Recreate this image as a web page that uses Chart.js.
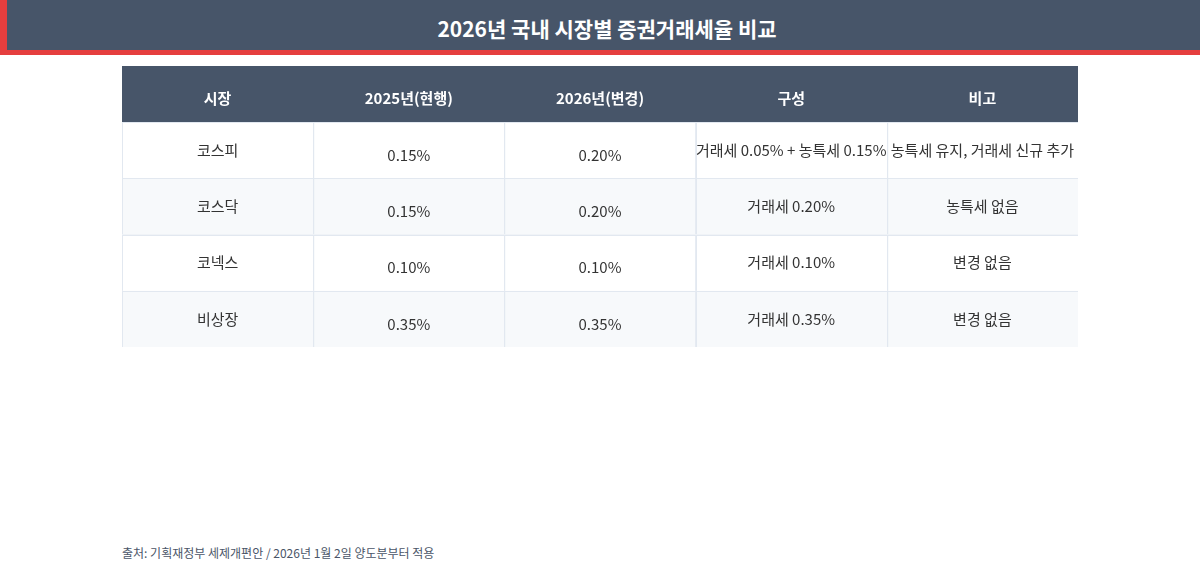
<!DOCTYPE html>
<html><head><meta charset="utf-8">
<script src="https://cdn.jsdelivr.net/npm/chart.js@4"></script>
<style>
body{margin:0;width:1200px;height:570px;background:#fff;font-family:"Noto Sans CJK KR","Noto Sans",sans-serif;position:relative;overflow:hidden}
#title{position:absolute;left:0;top:0;width:1200px;height:50px;background:#475569;border-left:7px solid #e53e3e;border-bottom:5px solid #e53e3e;box-sizing:content-box;color:#fff;font-weight:bold;font-size:21px;text-align:center;line-height:56px}
#wrap{position:absolute;left:122px;top:66px;width:956px;height:281px}
#src{position:absolute;left:122px;top:544px;font-size:12px;color:#4a5568}
</style></head><body>
<div id="title">2026년 국내 시장별 증권거래세율 비교</div>
<div id="wrap"><canvas id="c"></canvas></div>
<div id="src">출처: 기획재정부 세제개편안 / 2026년 1월 2일 양도분부터 적용</div>
<script>
const columns=["시장","2025년(현행)","2026년(변경)","구성","비고"];
const markets=["코스피","코스닥","코넥스","비상장"];
const rate2025=["0.15%","0.15%","0.10%","0.35%"];
const rate2026=["0.20%","0.20%","0.10%","0.35%"];
const composition=["거래세 0.05% + 농특세 0.15%","거래세 0.20%","거래세 0.10%","거래세 0.35%"];
const notes=["농특세 유지, 거래세 신규 추가","농특세 없음","변경 없음","변경 없음"];
const rowLabels=["header",...markets];
const FONT='"Noto Sans CJK KR","Noto Sans",sans-serif';
const tablePlugin={id:'table',afterDraw(ch){
 const c=ch.ctx,xs=ch.scales.x,ys=ch.scales.y;
 const cw=xs.width/columns.length,rh=ys.height/rowLabels.length;
 const rows=markets.map((m,i)=>[m,rate2025[i],rate2026[i],composition[i],notes[i]]);
 c.save();
 rowLabels.forEach((r,ri)=>{
  const cy=ys.getPixelForValue(ri);const top=cy-rh/2;
  c.fillStyle=ri===0?'#475569':(ri%2===0?'#f7f9fb':'#ffffff');
  c.fillRect(xs.left,top,xs.width,rh);
  if(ri>0){c.strokeStyle='#e2e8f0';c.lineWidth=1;
   for(let k=0;k<columns.length;k++){const cx=xs.getPixelForValue(k);c.strokeRect(Math.round(cx-cw/2)+0.5,Math.round(top)+0.5,cw,rh);}}
 });
 c.textAlign='center';c.textBaseline='middle';
 columns.forEach((h,k)=>{c.fillStyle='#fff';c.font='bold 15px '+FONT;c.fillText(h,xs.getPixelForValue(k),ys.getPixelForValue(0)+4);});
 rows.forEach((row,ri)=>{row.forEach((v,k)=>{c.fillStyle='#333';c.font='15px '+FONT;
  const dy=(k===1||k===2)?5:0;c.fillText(v,xs.getPixelForValue(k),ys.getPixelForValue(ri+1)+dy);});});
 c.restore();
}};
new Chart(document.getElementById('c'),{type:'bar',
 data:{labels:columns,datasets:[{data:[],label:'t'}]},
 options:{responsive:true,maintainAspectRatio:false,animation:false,
  layout:{padding:0},
  plugins:{legend:{display:false},tooltip:{enabled:false}},
  scales:{x:{type:'category',labels:columns,display:false,offset:true},
   y:{type:'category',labels:rowLabels,display:false,offset:true}}},
 plugins:[tablePlugin]});
</script></body></html>
